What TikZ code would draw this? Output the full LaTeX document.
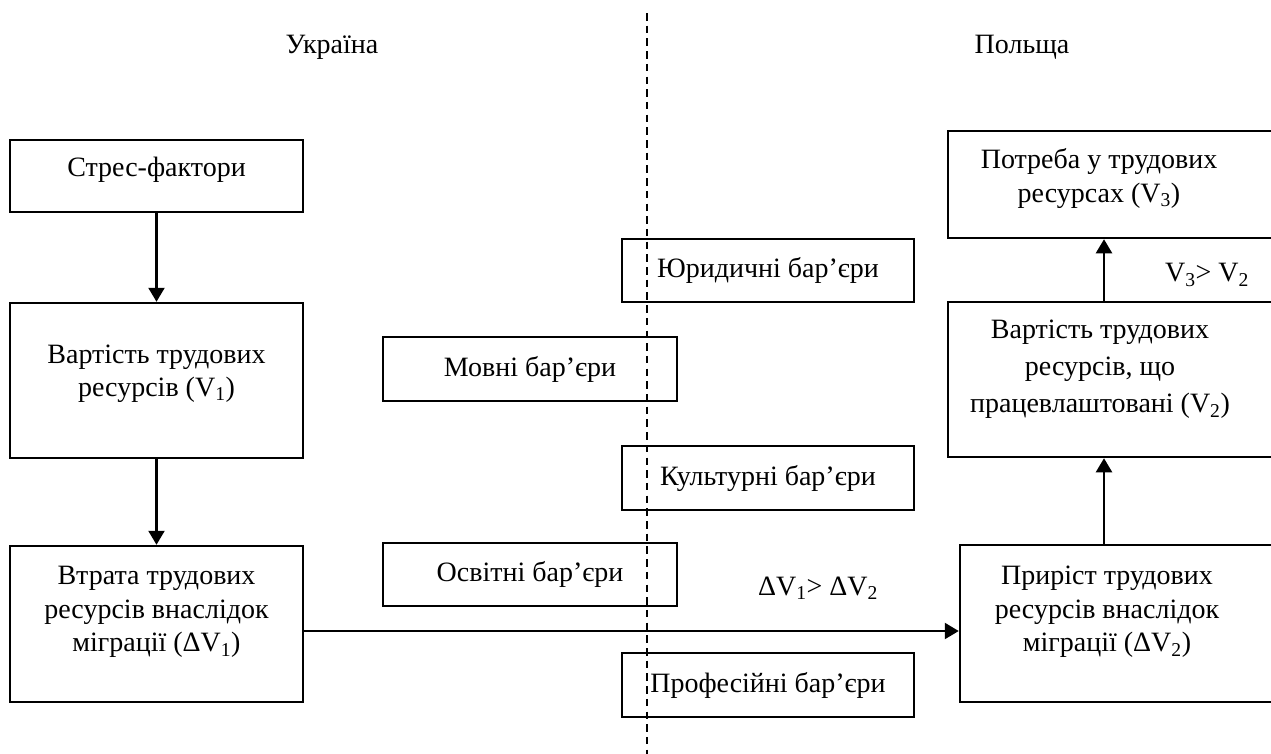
\documentclass[tikz,border=0pt]{standalone}
\usepackage{fontspec}
\setmainfont{Liberation Serif}
\usetikzlibrary{arrows.meta}
\begin{document}
\begin{tikzpicture}[x=1pt,y=-1pt,
  box/.style={draw,line width=2.5pt,inner sep=0pt},
  lbl/.style={align=center,font=\fontsize{28}{33.5}\selectfont,inner sep=0pt},
  arr/.style={line width=2.3pt,-{Triangle[length=14pt,width=16pt]}},
  divider/.style={line width=1.7pt,dash pattern=on 7.5pt off 5.2pt}]
\useasboundingbox (0,0) rectangle (1271,753);
\clip (0,0) rectangle (1271,753);
% divider
\coordinate (dtop) at (647,13);
\coordinate (dbot) at (647,760);
\draw[divider] (dtop) -- (dbot);
% headings
\node[lbl] (ua) at (332,47) {Україна};
\node[lbl] (pl) at (1022,47) {Польща};
% left column
\node[box,minimum width=293pt,minimum height=72pt] (s1) at (156.5,176) {};
\node[lbl] (s1t) at (156.5,170) {Стрес-фактори};
\node[box,minimum width=293pt,minimum height=155pt] (v1) at (156.5,380.5) {};
\node[lbl] (v1t) at (156.5,373.5) {Вартість трудових\\ресурсів (V\textsubscript{1})};
\node[box,minimum width=293pt,minimum height=156pt] (dv1) at (156.5,624) {};
\node[lbl] (dv1t) at (156.5,612) {Втрата трудових\\ресурсів внаслідок\\міграції (ΔV\textsubscript{1})};
% barriers
\node[box,lbl,minimum width=292pt,minimum height=63pt] (b1) at (768,270.5) {Юридичні бар’єри};
\node[box,lbl,minimum width=294pt,minimum height=64pt] (b2) at (530,369) {Мовні бар’єри};
\node[box,lbl,minimum width=292pt,minimum height=64pt] (b3) at (768,478) {Культурні бар’єри};
\node[box,lbl,minimum width=294pt,minimum height=63pt] (b4) at (530,574.5) {Освітні бар’єри};
\node[box,lbl,minimum width=292pt,minimum height=64pt] (b5) at (768,685) {Професійні бар’єри};
% right column
\node[box,minimum width=342pt,minimum height=107pt] (v3) at (1119,184.5) {};
\node[lbl] (v3t) at (1099,178.5) {Потреба у трудових\\ресурсах (V\textsubscript{3})};
\node[box,minimum width=342pt,minimum height=155pt] (v2) at (1119,379.5) {};
\node[lbl,font=\fontsize{28}{37}\selectfont] (v2t) at (1100,369.5) {Вартість трудових\\ресурсів, що\\працевлаштовані  (V\textsubscript{2})};
\node[box,minimum width=330pt,minimum height=157pt] (dv2) at (1125,623.5) {};
\node[lbl] (dv2t) at (1107,612) {Приріст трудових\\ресурсів внаслідок\\міграції (ΔV\textsubscript{2})};
% relation labels
\node[lbl] (r1) at (1207,275) {V\textsubscript{3}> V\textsubscript{2}};
\node[lbl] (r2) at (818,588) {ΔV\textsubscript{1}> ΔV\textsubscript{2}};
% connectors
\coordinate (hy) at (0,631);
\coordinate (ax) at (1104,0);
\draw[arr] (s1.south) -- (v1.north);
\draw[arr] (v1.south) -- (dv1.north);
\draw[arr] (dv1.east |- hy) -- (dv2.west |- hy);
\draw[arr] (dv2.north -| ax) -- (v2.south -| ax);
\draw[arr] (v2.north -| ax) -- (v3.south -| ax);
\end{tikzpicture}
\end{document}
